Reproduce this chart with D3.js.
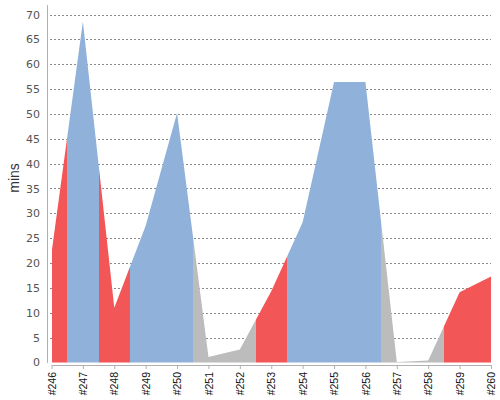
<!DOCTYPE html>
<html>
<head>
<meta charset="utf-8">
<script src="https://cdn.jsdelivr.net/npm/d3@7"></script>
<style>
  body { margin: 0; background: #fff; }
  svg { display: block; }
</style>
</head>
<body>
<svg id="chart" width="500" height="400"></svg>
<script>
// build numbers, durations (mins) and result of each build
var builds = [246, 247, 248, 249, 250, 251, 252, 253, 254, 255, 256, 257, 258, 259, 260];
var durations = [22, 68.6, 11, 27.5, 50.2, 1.1, 2.6, 14.3, 28.2, 56.4, 56.4, 0.1, 0.4, 14.1, 17.3];
var results = ['failed', 'success', 'failed', 'success', 'success', 'aborted', 'aborted', 'failed',
               'success', 'success', 'success', 'aborted', 'aborted', 'failed', 'failed'];
var yTicks = [0, 5, 10, 15, 20, 25, 30, 35, 40, 45, 50, 55, 60, 65, 70];

var colors = { failed: '#f25656', success: '#8fb1da', aborted: '#bcbcbc' };

var svg = d3.select('#chart');

var x = d3.scaleLinear().domain([builds[0], builds[builds.length - 1]]).range([51.5, 491]);
var y = d3.scaleLinear().domain([0, 72]).range([362.4, 4.6]);

// grid lines
svg.append('g')
  .selectAll('line')
  .data(yTicks.slice(1))
  .join('line')
  .attr('x1', 50).attr('x2', 491)
  .attr('y1', function(d) { return Math.round(y(d)) + 0.5; })
  .attr('y2', function(d) { return Math.round(y(d)) + 0.5; })
  .attr('stroke', '#8a8a8a')
  .attr('stroke-width', 1)
  .attr('stroke-dasharray', '2,2');

var area = d3.area()
  .x(function(d, i) { return x(builds[i]); })
  .y0(y(0))
  .y1(function(d) { return y(d); });

var defs = svg.append('defs');
var plot = svg.append('g');

// one clipped copy of the area per build, coloured by its result
builds.forEach(function(b, i) {
  var left = Math.round(Math.max(x.range()[0], x(b - 0.5)));
  var right = Math.round(Math.min(x.range()[1], x(b + 0.5)));
  defs.append('clipPath').attr('id', 'clip' + b)
    .append('rect')
    .attr('x', left).attr('y', 0)
    .attr('width', right - left).attr('height', 400);
  plot.append('path')
    .datum(durations)
    .attr('d', area)
    .attr('fill', colors[results[i]])
    .attr('clip-path', 'url(#clip' + b + ')');
});

// y axis
var yAxis = svg.append('g')
  .attr('transform', 'translate(47,0)')
  .call(d3.axisLeft(y).tickValues(yTicks).tickSize(0).tickSizeOuter(0).tickPadding(7));
yAxis.select('.domain').attr('stroke', '#b0b0b0');
yAxis.selectAll('text')
  .attr('font-family', 'DejaVu Sans')
  .attr('font-size', 11)
  .attr('fill', '#555');

// x axis
var xAxis = svg.append('g')
  .attr('transform', 'translate(0,365)')
  .call(d3.axisBottom(x).tickValues(builds).tickSize(4).tickSizeOuter(0)
    .tickFormat(function(d) { return '#' + d; }));
xAxis.select('.domain').attr('stroke', '#b0b0b0');
xAxis.selectAll('.tick line').attr('stroke', '#b0b0b0');
xAxis.selectAll('text')
  .attr('font-family', 'Liberation Sans')
  .attr('font-size', 10.5)
  .attr('fill', '#111')
  .attr('transform', 'rotate(-90)')
  .attr('text-anchor', 'end')
  .attr('x', -7)
  .attr('y', 0)
  .attr('dy', '0.35em');

svg.append('text')
  .attr('transform', 'translate(19,178) rotate(-90)')
  .attr('text-anchor', 'middle')
  .attr('font-family', 'Liberation Sans')
  .attr('font-size', 14)
  .attr('fill', '#333')
  .text('mins');
</script>
</body>
</html>
